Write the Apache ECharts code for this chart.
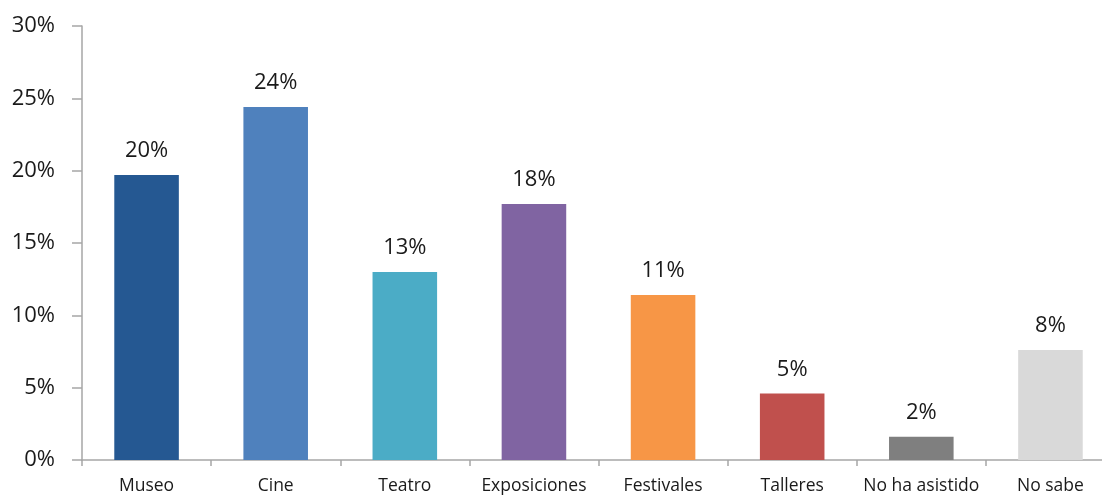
<!DOCTYPE html>
<html><head><meta charset="utf-8">
<script src="https://cdn.jsdelivr.net/npm/echarts@6/dist/echarts.min.js"></script>
<style>html,body{margin:0;padding:0;background:#fff}#c{width:1102px;height:498px}</style>
</head><body><div id="c"></div>
<script>
const categories = ["Museo","Cine","Teatro","Exposiciones","Festivales","Talleres","No ha asistido","No sabe"];
const values = [19.7, 24.4, 13.0, 17.7, 11.4, 4.6, 1.6, 7.6];
const colors = ["#255892","#4f81bd","#4bacc6","#8064a2","#f79646","#c0504d","#7f7f7f","#d9d9d9"];
const yTicks = [0,5,10,15,20,25,30];
const font = "Open Sans";
const chart = echarts.init(document.getElementById('c'));
chart.setOption({
  animation:false,
  grid:{left:82,width:1033,top:26,bottom:38,containLabel:false,outerBoundsMode:'none'},
  xAxis:{type:'category',data:categories,
    axisLine:{lineStyle:{color:'#a6a6a6',width:1.5}},
    axisTick:{show:true,alignWithLabel:false,length:6,lineStyle:{color:'#a6a6a6',width:1.5}},
    axisLabel:{interval:0,color:'#1a1a1a',fontSize:17.5,fontFamily:font,margin:17}},
  yAxis:{type:'value',min:yTicks[0],max:yTicks[yTicks.length-1],interval:5,
    axisLine:{show:true,lineStyle:{color:'#a6a6a6',width:1.5}},
    axisTick:{show:true,inside:false,length:10,lineStyle:{color:'#a6a6a6',width:1.5}},
    splitLine:{show:false},
    axisLabel:{color:'#1a1a1a',fontSize:22,fontFamily:font,margin:27,formatter:v=>v+'%'}},
  series:[{type:'bar',barWidth:'50%',
    data:values.map((v,i)=>({value:v,itemStyle:{color:colors[i]}})),
    label:{show:true,position:'top',distance:13,color:'#1a1a1a',fontSize:22,fontFamily:font,
      formatter:p=>Math.round(p.value)+'%'}}]
});
</script></body></html>
